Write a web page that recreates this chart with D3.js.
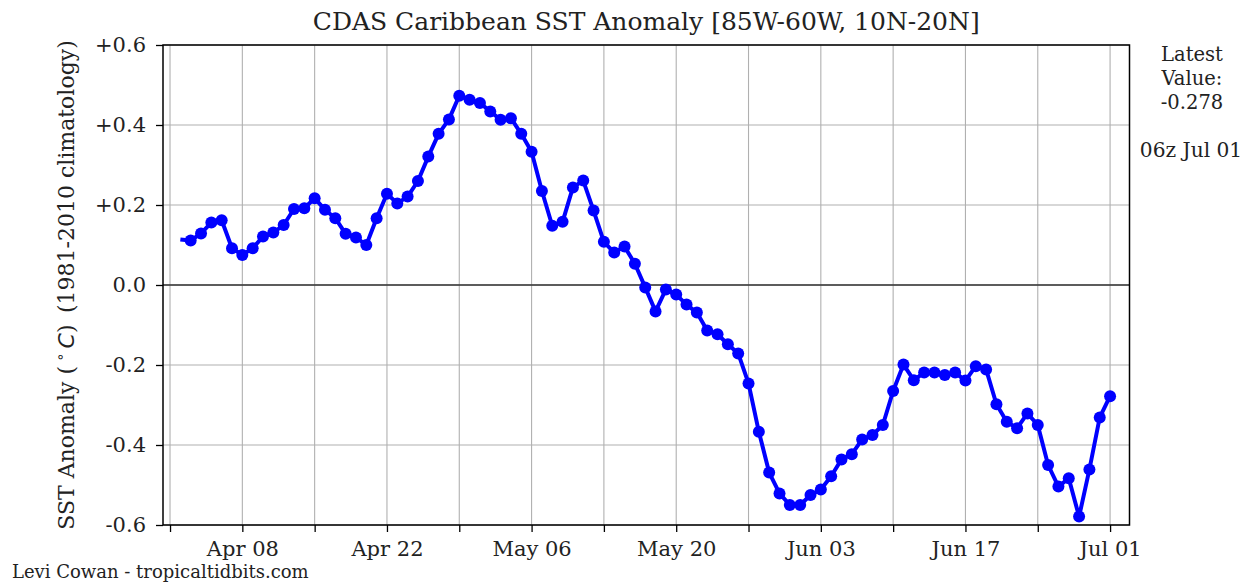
<!DOCTYPE html>
<html>
<head>
<meta charset="utf-8">
<script src="https://cdn.jsdelivr.net/npm/d3@7"></script>
<style>
  html, body { margin: 0; padding: 0; background: #fff; }
  svg { display: block; font-family: "DejaVu Serif", serif; }
</style>
</head>
<body>
<svg id="chart" width="1252" height="583"></svg>
<script>
// Daily CDAS SST anomaly, Caribbean box (85W-60W, 10N-20N), degrees C
const firstDay = "2024-04-02";
const anomaly = [
  // Apr 02 - Apr 30
  0.114, 0.111, 0.129, 0.156, 0.162, 0.092, 0.075, 0.092, 0.121, 0.131,
  0.150, 0.190, 0.192, 0.217, 0.188, 0.167, 0.128, 0.119, 0.100, 0.167,
  0.228, 0.204, 0.221, 0.260, 0.321, 0.378, 0.414, 0.473, 0.463,
  // May 01 - May 31
  0.455, 0.434, 0.413, 0.417, 0.378, 0.333, 0.235, 0.148, 0.158, 0.244,
  0.261, 0.186, 0.108, 0.081, 0.096, 0.053, -0.006, -0.066, -0.011, -0.024,
  -0.049, -0.069, -0.114, -0.123, -0.148, -0.171, -0.246, -0.367, -0.469, -0.521,
  -0.550,
  // Jun 01 - Jun 30
  -0.550, -0.525, -0.511, -0.478, -0.436, -0.423, -0.386, -0.375, -0.350, -0.265,
  -0.199, -0.238, -0.219, -0.219, -0.225, -0.219, -0.239, -0.203, -0.211, -0.298,
  -0.342, -0.358, -0.321, -0.350, -0.450, -0.504, -0.483, -0.579, -0.461, -0.331,
  // Jul 01
  -0.278
];

const tickDates = [
  "2024-04-01", "2024-04-08", "2024-04-15", "2024-04-22", "2024-04-29",
  "2024-05-06", "2024-05-13", "2024-05-20", "2024-05-27", "2024-06-03",
  "2024-06-10", "2024-06-17", "2024-06-24", "2024-07-01"
];
const tickLabels = [
  "", "Apr 08", "", "Apr 22", "", "May 06", "", "May 20", "", "Jun 03",
  "", "Jun 17", "", "Jul 01"
];
const yTicks = [-0.6, -0.4, -0.2, 0.0, 0.2, 0.4, 0.6];
const yTickLabels = ["-0.6", "-0.4", "-0.2", "0.0", "+0.2", "+0.4", "+0.6"];

const latestValue = "-0.278";
const latestTime = "06z Jul 01";

const parse = d3.utcParse("%Y-%m-%d");
const start = parse(firstDay);
const series = anomaly.map((v, i) => ({ date: d3.utcDay.offset(start, i), value: v }));
const ticks = tickDates.map(parse);

// axis limits (a little padding around Apr 01 .. Jul 01)
const xMin = new Date(parse("2024-04-01").getTime() - 0.68 * 864e5);
const xMax = new Date(parse("2024-07-01").getTime() + 1.88 * 864e5);

const plot = { left: 163, right: 1129.5, top: 45, bottom: 525 };

const x = d3.scaleUtc().domain([xMin, xMax]).range([plot.left, plot.right]);
const y = d3.scaleLinear().domain([-0.6, 0.6]).range([plot.bottom, plot.top]);

const svg = d3.select("#chart");

// grid
const grid = svg.append("g").attr("stroke", "#b0b0b0").attr("stroke-width", 1.1);
grid.selectAll("line.v").data(ticks).join("line")
  .attr("x1", d => x(d)).attr("x2", d => x(d))
  .attr("y1", plot.top).attr("y2", plot.bottom);
grid.selectAll("line.h").data(yTicks).join("line")
  .attr("x1", plot.left).attr("x2", plot.right)
  .attr("y1", d => y(d)).attr("y2", d => y(d));

// zero reference line
svg.append("line")
  .attr("x1", plot.left).attr("x2", plot.right)
  .attr("y1", y(0)).attr("y2", y(0))
  .attr("stroke", "#333").attr("stroke-width", 1.6);

// anomaly series
svg.append("path")
  .datum(series)
  .attr("fill", "none")
  .attr("stroke", "#0000ff")
  .attr("stroke-width", 4)
  .attr("stroke-linejoin", "round")
  .attr("d", d3.line().x(d => x(d.date)).y(d => y(d.value)));

svg.append("g").attr("fill", "#0000ff")
  .selectAll("circle").data(series.slice(1)).join("circle")
  .attr("cx", d => x(d.date)).attr("cy", d => y(d.value)).attr("r", 6);

// frame
svg.append("rect")
  .attr("x", plot.left).attr("y", plot.top)
  .attr("width", plot.right - plot.left).attr("height", plot.bottom - plot.top)
  .attr("fill", "none").attr("stroke", "#000").attr("stroke-width", 1.5);

// axes
const xAxis = d3.axisBottom(x)
  .tickValues(ticks)
  .tickSize(7).tickPadding(9)
  .tickFormat((d, i) => tickLabels[i]);
const gx = svg.append("g").attr("transform", `translate(0,${plot.bottom})`).call(xAxis);
gx.select(".domain").remove();
gx.selectAll(".tick line").attr("stroke", "#000").attr("stroke-width", 1.3);
gx.selectAll(".tick text").attr("font-family", "DejaVu Serif").attr("font-size", 21).attr("fill", "#222");

const yAxis = d3.axisLeft(y)
  .tickValues(yTicks)
  .tickSize(7).tickPadding(10)
  .tickFormat((d, i) => yTickLabels[i]);
const gy = svg.append("g").attr("transform", `translate(${plot.left},0)`).call(yAxis);
gy.select(".domain").remove();
gy.selectAll(".tick line").attr("stroke", "#000").attr("stroke-width", 1.3);
gy.selectAll(".tick text").attr("font-family", "DejaVu Serif").attr("font-size", 21).attr("fill", "#222");

// title
svg.append("text")
  .attr("x", (plot.left + plot.right) / 2).attr("y", 30)
  .attr("text-anchor", "middle")
  .attr("font-size", 25).attr("fill", "#222")
  .text("CDAS Caribbean SST Anomaly [85W-60W, 10N-20N]");

// y axis label (degree sign set as a raised ring, C in italics)
const yl = svg.append("text")
  .attr("transform", `translate(74,${(plot.top + plot.bottom) / 2}) rotate(-90)`)
  .attr("text-anchor", "middle")
  .attr("font-size", 22).attr("fill", "#222");
yl.append("tspan").text("SST Anomaly (\u2009");
yl.append("tspan").attr("font-family", "DejaVu Sans").attr("font-size", 14).attr("dy", -9).text("\u2218");
yl.append("tspan").attr("font-family", "DejaVu Sans").attr("font-style", "italic").attr("dy", 9).text("\u2009C");
yl.append("tspan").text(")\u2009 (1981-2010 climatology)");

// latest value note
const note = svg.append("text")
  .attr("x", 1192).attr("y", 61)
  .attr("text-anchor", "middle")
  .attr("font-size", 19.5).attr("fill", "#222");
["Latest", "Value:", latestValue].forEach((t, i) => {
  note.append("tspan").attr("x", 1192).attr("y", 61 + i * 24).text(t);
});
svg.append("text")
  .attr("x", 1191).attr("y", 157)
  .attr("text-anchor", "middle")
  .attr("font-size", 20.2).attr("fill", "#222")
  .text(latestTime);

// credit
svg.append("text")
  .attr("x", 12).attr("y", 578)
  .attr("font-size", 18).attr("fill", "#222")
  .text("Levi Cowan - tropicaltidbits.com");
</script>
</body>
</html>
